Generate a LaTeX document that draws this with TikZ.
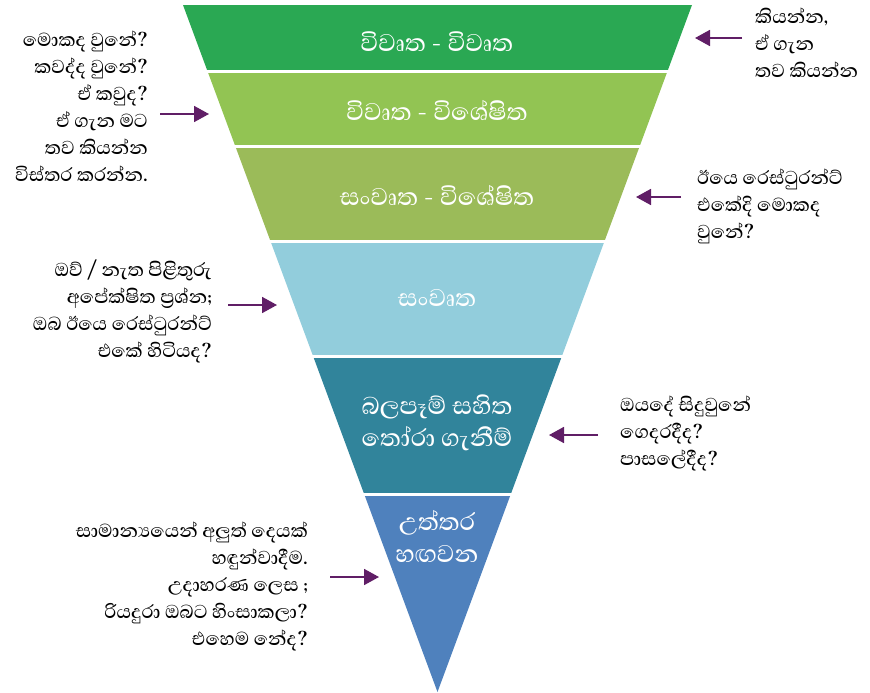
\documentclass[tikz,border=0pt]{standalone}
\usepackage{fontspec}
\newfontfamily\sinhalafont[Script=Sinhala, UprightFont=* Medium]{Abhaya Libre}
\usetikzlibrary{arrows.meta}
\definecolor{bandA}{RGB}{42,168,83}
\definecolor{bandB}{RGB}{146,196,83}
\definecolor{bandC}{RGB}{155,187,89}
\definecolor{bandD}{RGB}{146,205,220}
\definecolor{bandE}{RGB}{49,132,155}
\definecolor{bandF}{RGB}{79,129,189}
\definecolor{arrowc}{RGB}{96,30,102}
\newcommand\mytightlines{\lineskiplimit -100pt\relax}
\newcommand\mysidefont{\sinhalafont\fontsize{24}{27}\selectfont\mytightlines}
\newcommand\mybandfont{\sinhalafont\fontsize{31}{32}\selectfont\mytightlines}
\begin{document}
\begin{tikzpicture}[x=1pt,y=-1pt,
  side/.style={font=\mysidefont, inner sep=0pt, text=black},
  sideL/.style={side, anchor=east, align=right},
  sideR/.style={side, anchor=west, align=left},
  bandtext/.style={font=\mybandfont, text=white, align=center, inner sep=0pt},
  arr/.style={draw=arrowc, line width=1.8pt, -{Triangle[length=15pt,width=16pt]}}]
\useasboundingbox (0,0) rectangle (870,693);
\begin{scope}
  \clip (183,5) -- (692,5) -- (437.5,692) -- cycle;
  \fill[bandA] (150,5) rectangle (720,70);
  \fill[bandB] (150,73) rectangle (720,145);
  \fill[bandC] (150,148) rectangle (720,240);
  \fill[bandD] (150,243) rectangle (720,355);
  \fill[bandE] (150,358) rectangle (720,493);
  \fill[bandF] (150,496) rectangle (720,700);
\end{scope}
% band texts
\node[bandtext] (tA) at (437,42) {විවෘත - විවෘත};
\node[bandtext] (tB) at (437,110) {විවෘත - විශේෂිත};
\node[bandtext] (tC) at (437,195) {සංවෘත - විශේෂිත};
\node[bandtext] (tD) at (437,298) {සංවෘත};
\node[bandtext] (tE) at (437,423) {බලපෑම් සහිත\\තෝරා ගැනීම්};
\node[bandtext] (tF) at (437,536) {උත්තර\\හඟවන};
% side texts
\node[sideL] (L1) at (148,106) {මොකද වුනේ?\\කවද්ද වුනේ?\\ඒ කවුද?\\ඒ ගැන මට\\තව කියන්න\\විස්තර කරන්න.};
\node[sideR] (R1) at (755,43) {කියන්න,\\ඒ ගැන\\තව කියන්න};
\node[sideR] (R2) at (697,206) {ඊයෙ රෙස්ටුරන්ට්\\එකේදි මොකද\\වුනේ?};
\node[sideL] (L2) at (212,311) {ඔව් / නැත පිළිතුරු\\අපේක්ෂිත ප්‍රශ්න;\\ඔබ ඊයෙ රෙස්ටුරන්ට්\\එකේ හිටියද?};
\node[sideR] (R3) at (620,433) {ඔයදේ සිදුවුනේ\\ගෙදරදීද?\\පාසලේදීද?};
\node[sideL] (L3) at (308,586) {සාමාන්‍යයෙන් අලුත් දෙයක්\\හඳුන්වාදීම.\\උදාහරණ ලෙස ;\\රියදුරා ඔබට හිංසාකලා?\\එහෙම නේද?};
% arrow coordinates
\coordinate (r1s) at (742,38);  \coordinate (r1e) at (695,38);
\coordinate (l1s) at (160,114); \coordinate (l1e) at (209,114);
\coordinate (r2s) at (681,197); \coordinate (r2e) at (636,197);
\coordinate (l2s) at (228,305); \coordinate (l2e) at (277,305);
\coordinate (r3s) at (598,435); \coordinate (r3e) at (549,435);
\coordinate (l3s) at (330,577); \coordinate (l3e) at (379,577);
\draw[arr] (r1s) -- (r1e);
\draw[arr] (l1s) -- (l1e);
\draw[arr] (r2s) -- (r2e);
\draw[arr] (l2s) -- (l2e);
\draw[arr] (r3s) -- (r3e);
\draw[arr] (l3s) -- (l3e);
\end{tikzpicture}
\end{document}
